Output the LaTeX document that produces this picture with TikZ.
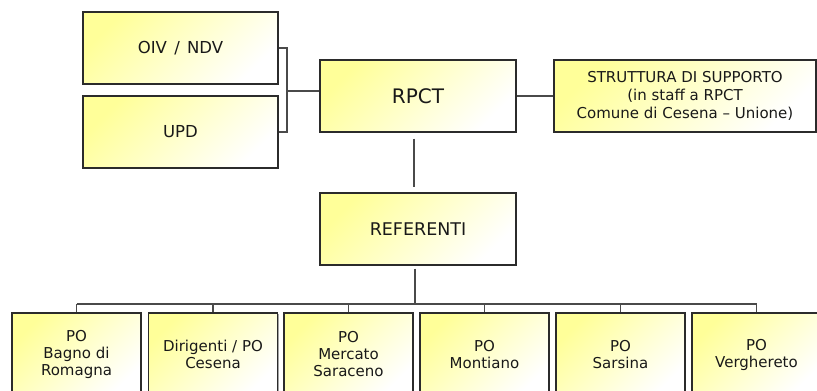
\documentclass[tikz,border=0pt]{standalone}
\usepackage{fontspec}
\setmainfont{DejaVu Sans}
\usetikzlibrary{shadows}
\definecolor{boxyellow}{HTML}{FFFF99}
\definecolor{boxline}{HTML}{2B2B2B}
\definecolor{conn}{HTML}{4A4A4A}
\tikzset{
  orgbox/.style={draw=boxline, line width=1.1pt, rectangle, inner sep=0pt,
    top color=boxyellow, bottom color=white, shading angle=45,
    align=center, text=black!90,
    drop shadow={shadow xshift=1pt, shadow yshift=-1.2pt, fill=black!45, opacity=0.8}},
  topbox/.style={orgbox, minimum width=195pt, minimum height=72pt},
  midbox/.style={orgbox, minimum width=196pt, minimum height=72pt},
  lowbox/.style={orgbox, minimum width=129pt, minimum height=83pt,
    font=\fontsize{15}{17}\selectfont},
  link/.style={draw=conn, line width=1.1pt}
}
\begin{document}
\begin{tikzpicture}[x=1pt,y=-1pt]
\clip (0,0) rectangle (817,391);
\fill[white] (0,0) rectangle (817,391);

% top row
\node[topbox, font=\fontsize{16.5}{19}\selectfont] (oiv) at (180.5,48) {OIV\kern2pt{} /\kern2pt{} NDV};
\node[topbox, font=\fontsize{16.5}{19}\selectfont] (upd) at (180.5,132) {UPD};
\node[midbox, font=\fontsize{20}{24}\selectfont] (rpct) at (418,96) {RPCT};
\node[orgbox, minimum width=262pt, minimum height=72pt,
      font=\fontsize{15}{18}\selectfont] (strut) at (685,96)
      {STRUTTURA DI SUPPORTO\\(in staff a RPCT\\Comune di Cesena -- Unione)};
\node[midbox, font=\fontsize{17.5}{21}\selectfont] (ref) at (418,229) {REFERENTI};

% bottom row
\node[lowbox] (b1) at (76.5,354.5) {PO\\Bagno di\\Romagna};
\node[lowbox] (b2) at (213,354.5) {Dirigenti / PO\\Cesena};
\node[lowbox] (b3) at (348.5,354.5) {PO\\Mercato\\Saraceno};
\node[lowbox] (b4) at (484.5,354.5) {PO\\Montiano};
\node[lowbox] (b5) at (620.5,354.5) {PO\\Sarsina};
\node[lowbox] (b6) at (756.5,354.5) {PO\\Verghereto};

% connectors top
\coordinate (bj) at (287,91);
\draw[link] (oiv.east) -- (oiv.east -| bj) -- (upd.east -| bj) -- (upd.east);
\draw[link] (bj) -- (bj -| rpct.west);
\draw[link] (rpct.east) -- (strut.west);
\draw[link] ([xshift=-4pt, yshift=-6pt]rpct.south) -- ([xshift=-4pt, yshift=5pt]ref.north);

% connectors bottom
\coordinate (bus) at (415,304);
\draw[link] ([xshift=-3pt, yshift=-3pt]ref.south) -- (bus);
\draw[link] (bus -| b1.north) -- (bus -| b6.north);
\foreach \b in {b1,b2,b3,b4,b5,b6}
  \draw[link] (bus -| \b.north) -- (\b.north);
\end{tikzpicture}
\end{document}
